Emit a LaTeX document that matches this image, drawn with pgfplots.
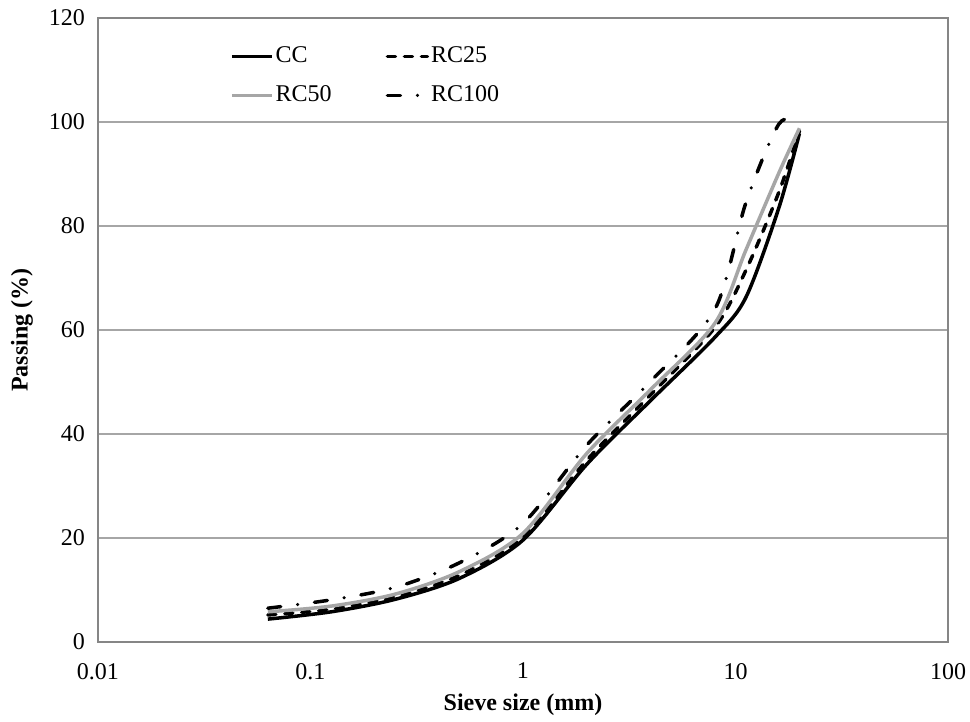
\documentclass[border=0pt]{standalone}
\usepackage{fontspec}
\setmainfont{Liberation Serif}
\usepackage{pgfplots}
\pgfplotsset{compat=1.18}

\definecolor{axgray}{RGB}{134,134,134}
\definecolor{gridgray}{RGB}{166,166,166}
\definecolor{rcgray}{RGB}{166,166,166}

% sieve size (mm) vs passing (%)
\pgfplotstableread{
size  CC    RC25  RC50  RC100
0.063 4.4   5.2   5.8   6.5
0.125 5.8   6.3   6.9   8.1
0.25  8.2   8.7   9.2   10.5
0.5   12.2  12.8  13.5  15.2
1     19.6  20.2  20.9  22.8
2     34.2  35.0  36.3  37.9
4     46.5  47.6  48.6  50.2
8     58.6  60.5  61.3  64.0
11.2  66.3  71.5  75.4  84.5
16    83.5  86.5  90.2  99.6
20    97.8  98.3  98.8  100.0
}\grading

\begin{document}
\begin{tikzpicture}
\begin{axis}[
  scale only axis,
  width=425pt, height=312pt,
  xmode=log,
  xmin=0.01, xmax=100,
  ymin=0, ymax=120,
  xtick={0.01,0.1,1,10,100},
  xticklabels={0.01,0.1,1,10,100},
  xminorticks=false,
  ytick={0,20,...,120},
  /pgf/number format/assume math mode=true,
  font=\fontsize{12pt}{14pt}\selectfont,
  tick label style={font=\fontsize{12pt}{14pt}\selectfont},
  xticklabel style={yshift=-7pt},
  yticklabel style={xshift=-3pt},
  major tick length=0pt,
  axis line style={axgray, line width=0.6pt},
  ymajorgrids,
  major grid style={gridgray, line width=0.6pt},
  xlabel={\textbf{Sieve size (mm)}},
  ylabel={\textbf{Passing (\%)}},
  xlabel style={at={(axis description cs:0.5,-0.101)}, anchor=center},
  ylabel style={at={(axis description cs:-0.0894,0.5)}, anchor=center},
  legend columns=2,
  legend cell align=left,
  legend style={draw=none, fill=none,
    at={(axis description cs:0.148,0.967)}, anchor=north west,
    font=\fontsize{12pt}{14pt}\selectfont,
    row sep=6pt,
    nodes={inner xsep=1pt},
    /tikz/every even column/.append style={column sep=26pt}},
  legend image code/.code={\draw[#1] (0pt,0pt) -- (20pt,0pt);},
  every axis plot/.append style={line width=1.75pt, smooth},
]
\addplot[black] table[x=size, y=CC] {\grading};
\addplot[black, line cap=round, dash pattern=on 4pt off 4.5pt] table[x=size, y=RC25] {\grading};
\addplot[rcgray] table[x=size, y=RC50] {\grading};
\addplot[black, line cap=round, dash pattern=on 6.5pt off 8.5pt on 0pt off 8.5pt] table[x=size, y=RC100] {\grading};
\legend{CC,RC25,RC50,RC100}
\end{axis}
\pgfresetboundingbox
\path (current axis.south west) ++(-49pt,-40pt) coordinate (bbA);
\path (current axis.north east) ++(11pt,9pt) coordinate (bbB);
\path (bbA) rectangle (bbB);
\end{tikzpicture}
\end{document}
